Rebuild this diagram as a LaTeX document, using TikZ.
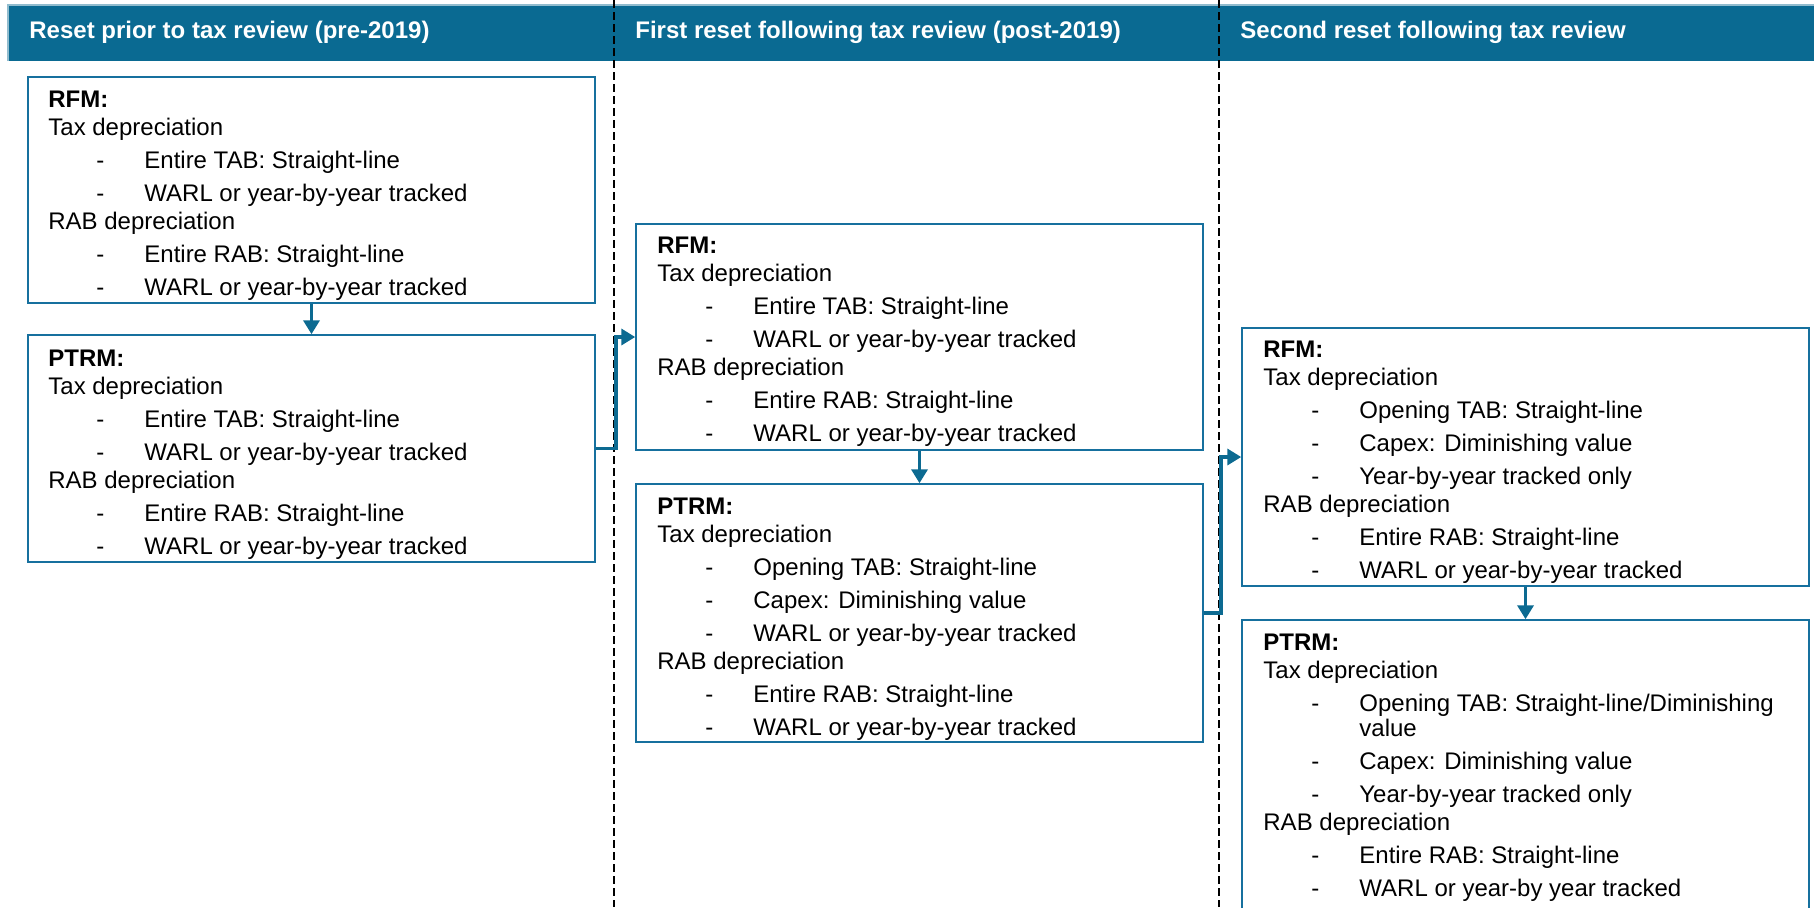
\documentclass[tikz,border=0pt]{standalone}
\usepackage{fontspec}
\setmainfont{Liberation Sans}
\usetikzlibrary{arrows.meta}
\definecolor{hdrblue}{RGB}{10,106,146}
\definecolor{boxblue}{RGB}{22,112,158}
\definecolor{arrblue}{RGB}{12,106,145}
\newcommand\hdl[1]{\hbox{#1}}
\newcommand\bul[1]{\vskip2.5pt\hbox{\hspace*{24pt}\makebox[24pt][l]{-}#1}}
\newcommand\cont[1]{\vskip-1.5pt\hbox{\hspace*{48pt}#1}}
\tikzset{
  box/.style={draw=boxblue, line width=0.75pt, inner sep=0pt, minimum width=283.5pt, fill=white},
  txt/.style={anchor=base west, inner sep=0pt, font=\fontsize{12}{14}\selectfont},
  hdr/.style={anchor=base west, inner sep=0pt, text=white, font=\fontsize{12}{14}\selectfont\bfseries},
  sep/.style={black, line width=1.1pt, dash pattern=on 4pt off 2pt},
  conn/.style={arrblue, line width=1.8pt, -{Triangle[length=7pt,width=8pt]}},
}
\begin{document}
\begin{tikzpicture}[x=0.5pt,y=-0.5pt]
\useasboundingbox (0,0) rectangle (1814,907);
\clip (0,0) rectangle (1814,907);
% header band
\fill[hdrblue] (8,5) rectangle (1814,61);
\draw[hdrblue!45, line width=0.6pt] (8,61) -- (8,5) -- (1814,5);
\node[hdr] (h1) at (29,38) {Reset prior to tax review (pre-2019)};
\node[hdr] (h2) at (635,38) {First reset following tax review (post-2019)};
\node[hdr] (h3) at (1240,38) {Second reset following tax review};
% column separators
\coordinate (s1t) at (614,0); \coordinate (s1b) at (614,907);
\coordinate (s2t) at (1219,0); \coordinate (s2b) at (1219,907);
\draw[sep] (s1t) -- (s1b);
\draw[sep] (s2t) -- (s2b);
% boxes
\node[box, minimum height=113pt] (r1) at (311.5,190) {};
\node[box, minimum height=113.5pt] (p1) at (311.5,448.5) {};
\node[box, minimum height=113pt] (r2) at (919.5,337) {};
\node[box, minimum height=129pt] (p2) at (919.5,613) {};
\node[box, minimum height=129pt] (r3) at (1525.5,457) {};
\node[box, minimum height=170pt] (p3) at (1525.5,790) {};
% texts
\node[txt] (tr1) at (48,107) {\vtop{%
  \hdl{\textbf{RFM:}}\hdl{Tax depreciation}%
  \bul{Entire TAB: Straight-line}\bul{WARL or year-by-year tracked}%
  \hdl{RAB depreciation}%
  \bul{Entire RAB: Straight-line}\bul{WARL or year-by-year tracked}}};
\node[txt] (tp1) at (48,366) {\vtop{%
  \hdl{\textbf{PTRM:}}\hdl{Tax depreciation}%
  \bul{Entire TAB: Straight-line}\bul{WARL or year-by-year tracked}%
  \hdl{RAB depreciation}%
  \bul{Entire RAB: Straight-line}\bul{WARL or year-by-year tracked}}};
\node[txt] (tr2) at (657,253) {\vtop{%
  \hdl{\textbf{RFM:}}\hdl{Tax depreciation}%
  \bul{Entire TAB: Straight-line}\bul{WARL or year-by-year tracked}%
  \hdl{RAB depreciation}%
  \bul{Entire RAB: Straight-line}\bul{WARL or year-by-year tracked}}};
\node[txt] (tp2) at (657,514) {\vtop{%
  \hdl{\textbf{PTRM:}}\hdl{Tax depreciation}%
  \bul{Opening TAB: Straight-line}\bul{Capex: Diminishing value}\bul{WARL or year-by-year tracked}%
  \hdl{RAB depreciation}%
  \bul{Entire RAB: Straight-line}\bul{WARL or year-by-year tracked}}};
\node[txt] (tr3) at (1263,357) {\vtop{%
  \hdl{\textbf{RFM:}}\hdl{Tax depreciation}%
  \bul{Opening TAB: Straight-line}\bul{Capex: Diminishing value}\bul{Year-by-year tracked only}%
  \hdl{RAB depreciation}%
  \bul{Entire RAB: Straight-line}\bul{WARL or year-by-year tracked}}};
\node[txt] (tp3) at (1263,650) {\vtop{%
  \hdl{\textbf{PTRM:}}\hdl{Tax depreciation}%
  \bul{Opening TAB: Straight-line/Diminishing}\cont{value}%
  \bul{Capex: Diminishing value}\bul{Year-by-year tracked only}%
  \hdl{RAB depreciation}%
  \bul{Entire RAB: Straight-line}\bul{WARL or year-by year tracked}}};
% connectors
\coordinate (j1) at (616,0);
\coordinate (j2) at (1221,0);
\draw[conn] (r1.south) -- (p1.north);
\draw[conn] (r2.south) -- (p2.north);
\draw[conn] (r3.south) -- (p3.north);
\draw[conn] (p1.east) -| (j1 |- r2.west) -- (r2.west);
\draw[conn] (p2.east) -| (j2 |- r3.west) -- (r3.west);
\end{tikzpicture}
\end{document}
